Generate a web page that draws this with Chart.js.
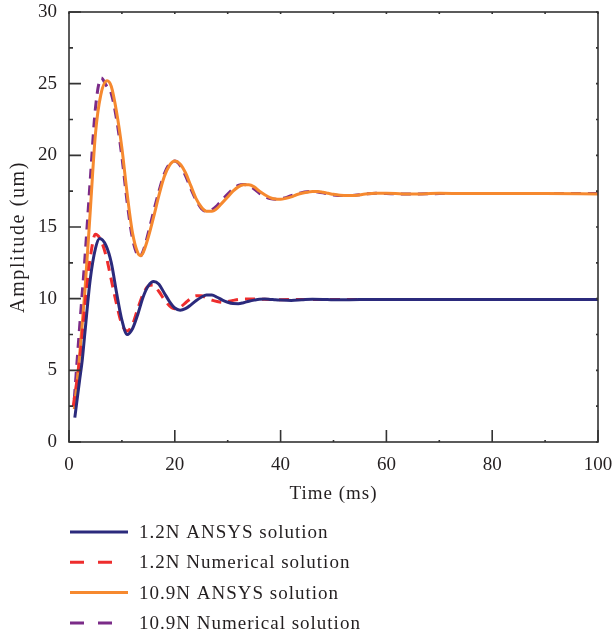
<!DOCTYPE html>
<html>
<head>
<meta charset="utf-8">
<script src="https://cdn.jsdelivr.net/npm/chart.js@4/dist/chart.umd.min.js"></script>
<style>
  html, body { margin: 0; padding: 0; background: #fff; }
  #wrap { width: 612px; height: 640px; }
</style>
</head>
<body>
<div id="wrap"><canvas id="chart" width="612" height="640"></canvas></div>
<script>
// data (time in ms, amplitude in um)
const labels = ["1.2N ANSYS solution", "1.2N Numerical solution", "10.9N ANSYS solution", "10.9N Numerical solution"];

const blueT = [1.1, 2, 2.5, 3, 4, 5, 5.8, 7, 8, 9, 10, 11, 12, 13, 14, 15, 16, 17, 18, 19, 20, 21, 22, 23, 24, 25, 26, 27, 28, 29, 30, 31, 32, 33, 34, 35, 36, 37, 38, 39, 40, 42, 44, 46, 48, 50, 55, 60, 70, 80, 90, 100];
const blueA = [1.7, 4.3, 5.7, 7.6, 11.3, 13.5, 14.2, 13.7, 12.5, 10.4, 8.5, 7.5, 7.9, 8.9, 10.1, 10.9, 11.2, 11.0, 10.4, 9.8, 9.35, 9.2, 9.3, 9.55, 9.85, 10.1, 10.25, 10.25, 10.1, 9.9, 9.75, 9.66, 9.65, 9.72, 9.82, 9.9, 9.96, 9.97, 9.95, 9.92, 9.9, 9.88, 9.92, 9.96, 9.95, 9.92, 9.94, 9.95, 9.95, 9.95, 9.95, 9.95];

const redT = [0.8, 2, 3, 4, 5, 6, 7, 8, 9, 10, 11, 12, 13, 14, 15, 16, 17, 18, 19, 20, 21, 22, 23, 24, 25, 26, 27, 28, 29, 30, 31, 32, 34, 36, 38, 40, 45, 50, 60, 70, 80, 90, 100];
const redA = [2.5, 5.7, 9.5, 12.8, 14.5, 14.1, 13.0, 11.3, 9.6, 8.2, 7.75, 8.2, 9.3, 10.3, 10.9, 10.95, 10.5, 9.95, 9.5, 9.3, 9.4, 9.7, 10.0, 10.2, 10.2, 10.05, 9.9, 9.8, 9.75, 9.8, 9.88, 9.95, 9.98, 9.96, 9.94, 9.93, 9.95, 9.95, 9.95, 9.95, 9.95, 9.95, 9.95];

const orangeT = [1, 2, 3, 4, 5, 6, 7.2, 8, 9, 10, 11, 12, 13, 13.5, 14, 15, 16, 17, 18, 19, 20, 21, 22, 23, 24, 25, 26, 27, 28, 29, 30, 31, 32, 33, 34, 35, 36, 37, 38, 39, 40, 41, 42, 43, 44, 45, 46, 47, 48, 49, 50, 52, 54, 56, 58, 60, 65, 70, 75, 80, 90, 100];
const orangeA = [2.3, 6.0, 10.5, 16.0, 21.5, 24.2, 25.2, 24.8, 23.0, 20.5, 17.3, 14.6, 13.2, 13.0, 13.2, 14.3, 15.7, 17.2, 18.5, 19.3, 19.6, 19.4, 18.8, 17.9, 17.0, 16.4, 16.1, 16.1, 16.3, 16.7, 17.1, 17.5, 17.8, 17.95, 17.95, 17.8, 17.5, 17.25, 17.05, 16.95, 16.93, 17.0, 17.1, 17.25, 17.35, 17.42, 17.47, 17.47, 17.42, 17.35, 17.28, 17.2, 17.2, 17.3, 17.35, 17.35, 17.3, 17.35, 17.33, 17.33, 17.33, 17.3];

const purpleT = [1, 2, 3, 4, 5, 6.1, 7, 8, 9, 10, 11, 12, 13, 13.3, 14, 15, 16, 17, 18, 19, 20, 21, 22, 23, 24, 25, 26, 27, 28, 29, 30, 31, 32, 33, 34, 35, 36, 37, 38, 39, 40, 41, 42, 43, 44, 45, 46, 47, 48, 49, 50, 52, 54, 56, 58, 60, 65, 70, 75, 80, 90, 100];
const purpleA = [3.0, 8.0, 12.8, 18.2, 23.3, 25.4, 24.9, 24.3, 22.5, 19.9, 16.7, 14.2, 13.0, 12.9, 13.3, 14.6, 16.1, 17.5, 18.7, 19.4, 19.6, 19.3, 18.6, 17.7, 16.9, 16.3, 16.1, 16.2, 16.5, 16.9, 17.3, 17.65, 17.9, 17.97, 17.88, 17.65, 17.35, 17.12, 16.98, 16.93, 16.97, 17.05, 17.18, 17.3, 17.4, 17.46, 17.48, 17.44, 17.38, 17.3, 17.24, 17.2, 17.22, 17.3, 17.35, 17.33, 17.3, 17.33, 17.33, 17.33, 17.33, 17.33];

const xMajor = [0, 20, 40, 60, 80, 100];
const xMinor = [10, 30, 50, 70, 90];
const yMajor = [0, 5, 10, 15, 20, 25, 30];
const yMinor = [2.5, 7.5, 12.5, 17.5, 22.5, 27.5];
const xTitle = "Time (ms)";
const yTitle = "Amplitude (um)";

const FONT = "'Liberation Serif', 'DejaVu Serif', serif";
const FSIZE = 19;
const TEXT = "#231f20";
const AXIS = "#333333";

function pts(t, a) {
  return t.map((v, i) => ({ x: v, y: a[i] }));
}

function noPad(s) {
  s.paddingTop = 0; s.paddingBottom = 0; s.paddingLeft = 0; s.paddingRight = 0;
}

// inward ticks and the frame box
const frame = {
  id: "frame",
  afterDatasetsDraw(chart) {
    const { ctx, chartArea: ca, scales } = chart;
    const x = scales.x, y = scales.y;
    ctx.save();
    ctx.strokeStyle = AXIS;
    ctx.lineWidth = 1.6;
    ctx.strokeRect(ca.left, ca.top, ca.right - ca.left, ca.bottom - ca.top);
    ctx.beginPath();
    xMajor.forEach(v => {
      const px = x.getPixelForValue(v);
      ctx.moveTo(px, ca.bottom); ctx.lineTo(px, ca.bottom - 12);
      ctx.moveTo(px, ca.top); ctx.lineTo(px, ca.top + 2);
    });
    xMinor.forEach(v => {
      const px = x.getPixelForValue(v);
      ctx.moveTo(px, ca.bottom); ctx.lineTo(px, ca.bottom - 2);
      ctx.moveTo(px, ca.top); ctx.lineTo(px, ca.top + 2);
    });
    yMajor.forEach(v => {
      const py = y.getPixelForValue(v);
      ctx.moveTo(ca.left, py); ctx.lineTo(ca.left + 12, py);
      ctx.moveTo(ca.right, py); ctx.lineTo(ca.right - 2, py);
    });
    yMinor.forEach(v => {
      const py = y.getPixelForValue(v);
      ctx.moveTo(ca.left, py); ctx.lineTo(ca.left + 4, py);
      ctx.moveTo(ca.right, py); ctx.lineTo(ca.right - 2, py);
    });
    ctx.stroke();
    ctx.restore();
  }
};

// axis titles (wider spacing) and a vertical legend under the axis
const texts = {
  id: "texts",
  afterDraw(chart) {
    const { ctx, chartArea: ca } = chart;
    ctx.save();
    ctx.fillStyle = TEXT;
    ctx.textBaseline = "middle";
    ctx.textAlign = "center";
    ctx.font = FSIZE + "px " + FONT;
    ctx.letterSpacing = "1px";
    ctx.fillText(xTitle, (ca.left + ca.right) / 2, 494);
    ctx.save();
    ctx.translate(19, 237);
    ctx.rotate(-Math.PI / 2);
    ctx.font = "20px " + FONT;
    ctx.letterSpacing = "1.6px";
    ctx.fillText(yTitle, 0, 0);
    ctx.restore();

    ctx.textAlign = "left";
    ctx.font = FSIZE + "px " + FONT;
    ctx.letterSpacing = "1px";
    chart.data.datasets.forEach((ds, i) => {
      const cy = 532 + i * 30.3;
      const dashed = ds.borderDash && ds.borderDash.length;
      ctx.beginPath();
      ctx.strokeStyle = ds.borderColor;
      ctx.lineWidth = 3;
      ctx.setLineDash(dashed ? [14, 14] : []);
      ctx.moveTo(70, cy);
      ctx.lineTo(dashed ? 112 : 128, cy);
      ctx.stroke();
      ctx.setLineDash([]);
      ctx.fillText(ds.label, 139, cy + 1);
    });
    ctx.restore();
  }
};

const common = { fill: false, pointRadius: 0, borderWidth: 3, cubicInterpolationMode: "monotone", borderCapStyle: "butt" };

new Chart(document.getElementById("chart"), {
  type: "line",
  data: {
    datasets: [
      { ...common, label: labels[0], data: pts(blueT, blueA), borderColor: "#2b2a7c" },
      { ...common, label: labels[1], data: pts(redT, redA), borderColor: "#ee2d2d", borderDash: [10, 7] },
      { ...common, label: labels[2], data: pts(orangeT, orangeA), borderColor: "#f6892f" },
      { ...common, label: labels[3], data: pts(purpleT, purpleA), borderColor: "#7b2b88", borderDash: [10, 7] }
    ]
  },
  options: {
    responsive: false,
    animation: false,
    layout: { padding: { top: 12, right: 14, bottom: 130, left: 0 } },
    plugins: { legend: { display: false }, tooltip: { enabled: false } },
    scales: {
      x: {
        type: "linear", min: 0, max: 100,
        grid: { display: false, drawTicks: false },
        border: { display: false },
        afterFit: s => { s.height = 68; noPad(s); },
        ticks: { padding: 12, color: TEXT, font: { family: FONT, size: FSIZE } },
        afterBuildTicks: s => { s.ticks = xMajor.map(v => ({ value: v })); }
      },
      y: {
        min: 0, max: 30,
        grid: { display: false, drawTicks: false },
        border: { display: false },
        afterFit: s => { s.width = 69; noPad(s); },
        afterBuildTicks: s => { s.ticks = yMajor.map(v => ({ value: v })); },
        ticks: { padding: 12, color: TEXT, font: { family: FONT, size: FSIZE } }
      }
    }
  },
  plugins: [frame, texts]
});
</script>
</body>
</html>
